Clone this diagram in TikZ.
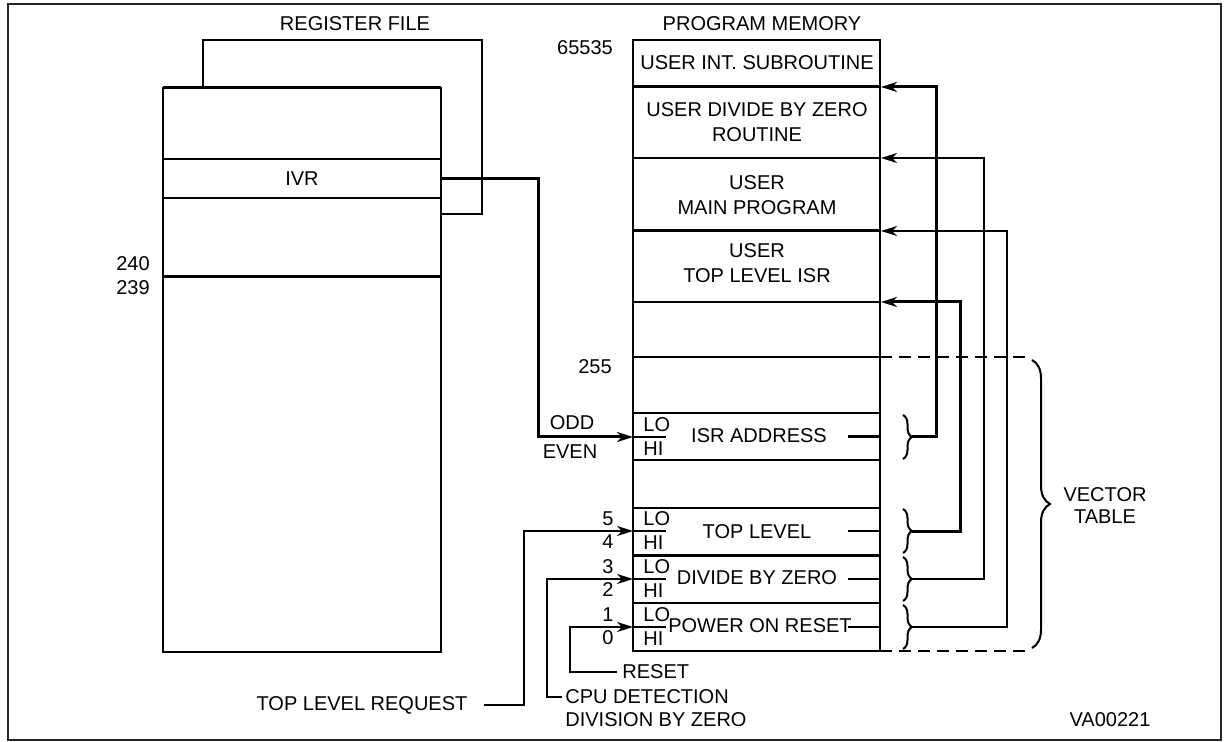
\documentclass[tikz,border=0pt]{standalone}
\usepackage{fontspec}
\setmainfont{Liberation Sans}
\usetikzlibrary{arrows.meta,decorations.pathreplacing}
\tikzset{
  memline/.style={line width=1pt},
  boldline/.style={line width=1.5pt},
  vecarrow/.style={line width=1pt,-{Stealth[length=8pt,width=5pt,inset=2.5pt]}},
  vecarrowbold/.style={line width=1.5pt,-{Stealth[length=8pt,width=5pt,inset=2.5pt]}},
  txt/.style={inner sep=0pt,font=\fontsize{10}{12.8}\selectfont},
  smallbrace/.style={memline,decorate,decoration={brace,amplitude=4.5pt}},
  bigbrace/.style={memline,decorate,decoration={brace,amplitude=9pt}},
  extline/.style={memline,dash pattern=on 6pt off 3.5pt}
}

\begin{document}
\begin{tikzpicture}[x=0.5pt,y=-0.5pt]
\useasboundingbox (0,0) rectangle (1225,742);
\draw[line width=1.3pt,black!85] (8,4) rectangle (1221,740);

% register file
\draw[memline] (163,88) rectangle (441,652);
\draw[boldline] (163,88) -- (441,88);
\draw[memline] (163,159) -- (441,159);
\draw[memline] (163,198) -- (441,198);
\draw[boldline] (163,277) -- (441,277);
\node[txt] (rf-title) at (355,24) {REGISTER FILE};
\node[txt] (ivr) at (302,179) {IVR};
\node[txt] (n240) at (133,264) {240};
\node[txt] (n239) at (133,288) {239};
\coordinate (rf-tap) at (203,88);
\coordinate (rf-back) at (441,214);
\coordinate (ivr-out) at (441,179);
\draw[memline] (rf-tap) |- (482,40) |- (rf-back);

% program memory
\draw[memline] (633,40) rectangle (880,651);
\foreach \y in {158,302,357,413,460,508,603}
  \draw[memline] (633,\y) -- (880,\y);
\foreach \y in {87,231,555}
  \draw[boldline] (633,\y) -- (880,\y);
\node[txt] (pm-title) at (762,24) {PROGRAM MEMORY};
\node[txt] (n65535) at (585,48) {65535};
\node[txt] (uis) at (757,63) {USER INT.\ SUBROUTINE};
\node[txt,align=center] (udz) at (757,122) {USER DIVIDE BY ZERO\\ROUTINE};
\node[txt,align=center] (ump) at (757,195) {USER\\MAIN PROGRAM};
\node[txt,align=center] (utl) at (757,263) {USER\\TOP LEVEL ISR};
\node[txt] (n255) at (595,367) {255};
\coordinate (uis-in) at (881,87);
\coordinate (udz-in) at (881,158);
\coordinate (ump-in) at (881,231);
\coordinate (utl-in) at (881,302);

% vector table entries
\node[txt] (isr) at (759,436) {ISR ADDRESS};
\node[txt] (top) at (757,532) {TOP LEVEL};
\node[txt] (div) at (757,578) {DIVIDE BY ZERO};
\node[txt] (por) at (760,626) {POWER ON RESET};
\foreach \y/\nm in {437/isr,531/top,579/div,627/por}{
  \coordinate (\nm-in) at (633,\y);
  \coordinate (\nm-tip) at (912,\y);
  \draw[memline] (\nm-in) -- ++(33,0);
  \node[txt,anchor=west] (\nm-lo) at (643,{\y-12}) {LO};
  \node[txt,anchor=west] (\nm-hi) at (643,{\y+12}) {HI};
  \draw[smallbrace] (903,{\y-22}) -- (903,{\y+22});
}
\draw[boldline] (848,437) -- (880,437);
\foreach \y in {531,579,627}
  \draw[memline] (848,\y) -- (880,\y);
\foreach \y/\a/\b in {531/5/4,579/3/2,627/1/0}{
  \node[txt] at (608,{\y-12}) {\a};
  \node[txt] at (608,{\y+11}) {\b};
}

% vectors back into program memory
\draw[vecarrowbold] (isr-tip) -- ++(24,0) |- (uis-in);
\draw[vecarrowbold] (top-tip) -- ++(48,0) |- (utl-in);
\draw[vecarrow] (div-tip) -- ++(72,0) |- (udz-in);
\draw[vecarrow,line width=1.25pt] (por-tip) -- ++(95,0) |- (ump-in);

% vector table extent
\draw[extline] (880,357) -- (1032,357);
\draw[extline] (880,651) -- (1032,651);
\draw[bigbrace] (1032,360) -- (1032,648);
\node[txt,align=center,font=\fontsize{10}{11}\selectfont] (vt) at (1105,506) {VECTOR\\TABLE};

% requests
\node[txt] (odd) at (572,423) {ODD};
\node[txt] (even) at (570,452) {EVEN};
\draw[vecarrowbold] (ivr-out) -- ++(97,0) |- (isr-in);
\node[txt] (tlr) at (362,705) {TOP LEVEL REQUEST};
\node[txt,anchor=west] (cpu) at (565,697) {CPU DETECTION};
\node[txt,anchor=west] (dbz) at (565,720) {DIVISION BY ZERO};
\node[txt,anchor=west] (rst) at (622,672) {RESET};
\draw[vecarrow] ([xshift=8pt]tlr.east) -- ++(40,0) |- (top-in);
\draw[vecarrow] ([xshift=-1.5pt]cpu.west) -- ++(-15,0) |- (div-in);
\draw[vecarrow] ([xshift=-2.5pt]rst.west) -- ++(-47,0) |- (por-in);

\node[txt] (va) at (1110,720) {VA00221};
\end{tikzpicture}
\end{document}
